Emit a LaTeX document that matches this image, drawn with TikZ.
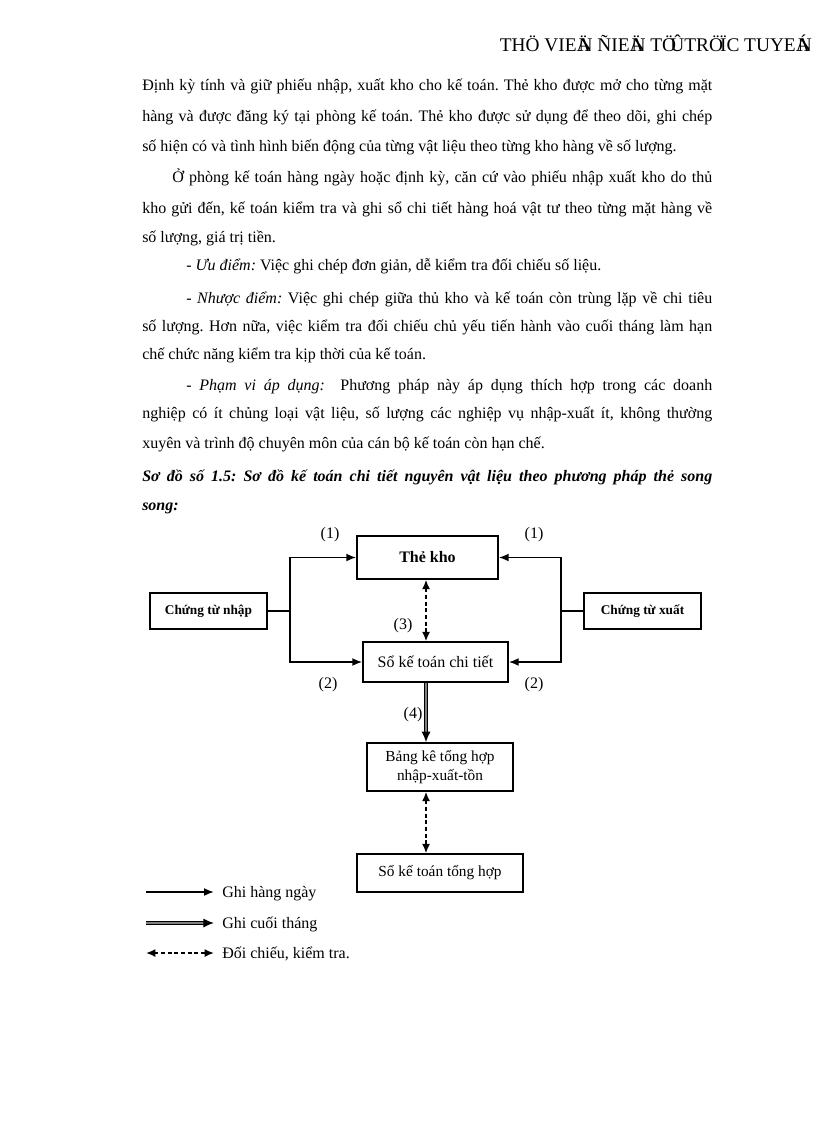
\documentclass[tikz,border=0pt]{standalone}
\usepackage{fontspec}
\setmainfont{Liberation Serif}
\usetikzlibrary{arrows.meta}
\frenchspacing

\newlength\pxl
\setlength\pxl{0.75pt}
% justified line of a given pixel width
\newcommand\jline[2]{\makebox[#1\pxl][s]{#2}}

\begin{document}
\begin{tikzpicture}[
        x=0.75pt, y=-0.75pt,
        txt/.style={anchor=base west, inner sep=0pt, font=\fontsize{12}{14}\selectfont},
        box/.style={rectangle, draw, line width=1.1pt, inner sep=0pt, align=center, font=\fontsize{12}{14}\selectfont},
        srcbox/.style={box, minimum width=87.75pt, minimum height=27pt, font=\fontsize{10}{12}\selectfont\bfseries},
        sumbox/.style={box, font=\fontsize{11.5}{14.25}\selectfont},
        num/.style={inner sep=0pt, font=\fontsize{12}{14}\selectfont},
        flow/.style={line width=1.3pt, -{Latex[length=7.5pt,width=6pt]}},
        check/.style={line width=1.3pt, dash pattern=on 3pt off 2pt, {Latex[length=7pt,width=6pt]}-{Latex[length=7pt,width=6pt]}},
        monthly/.style={double=gray, double distance=1pt, line width=1.2pt, -{Latex[length=8pt,width=7pt]}},
    ]
    \path[fill=white, use as bounding box] (0,0) rectangle (816,1123);

    % Header
    \node[anchor=base east, inner sep=0pt, font=\fontsize{14.5}{16}\selectfont] (header) at (812,52)
        {THÖ VIEÄ\kern-.62em N ÑIEÄ\kern-.62em N TÖ\kern-.3emÛTRÖ\kern-.15emÏC TUYEÁ\kern-.62em N};

    % Body text
    \node[txt] (l1) at (142,91) {\jline{570}{Định kỳ tính và giữ phiếu nhập, xuất kho cho kế toán. Thẻ kho được mở cho từng mặt}};
    \node[txt] (l2) at (142,122) {\jline{570}{hàng và được đăng ký tại phòng kế toán. Thẻ kho được sử dụng để theo dõi, ghi chép}};
    \node[txt] (l3) at (142,152) {số hiện có và tình hình biến động của từng vật liệu theo từng kho hàng về số lượng.};
    \node[txt] (l4) at (172,183) {\jline{540}{Ở phòng kế toán hàng ngày hoặc định kỳ, căn cứ vào phiếu nhập xuất kho do thủ}};
    \node[txt] (l5) at (142,214) {\jline{570}{kho gửi đến, kế toán kiểm tra và ghi sổ chi tiết hàng hoá vật tư theo từng mặt hàng về}};
    \node[txt] (l6) at (142,243) {số lượng, giá trị tiền.};
    \node[txt] (l7) at (186,270) {- \textit{Ưu điểm:} Việc ghi chép đơn giản, dễ kiểm tra đối chiếu số liệu.};
    \node[txt] (l8) at (186,303) {\jline{526}{- \textit{Nhược điểm:} Việc ghi chép giữa thủ kho và kế toán còn trùng lặp về chi tiêu}};
    \node[txt] (l9) at (142,331) {\jline{570}{số lượng. Hơn nữa, việc kiểm tra đối chiếu chủ yếu tiến hành vào cuối tháng làm hạn}};
    \node[txt] (l10) at (142,359) {chế chức năng kiểm tra kịp thời của kế toán.};
    \node[txt] (l11) at (186,390) {\jline{526}{- \textit{Phạm vi áp dụng:}\ \ Phương pháp này áp dụng thích hợp trong các doanh}};
    \node[txt] (l12) at (142,418) {\jline{570}{nghiệp có ít chủng loại vật liệu, số lượng các nghiệp vụ nhập-xuất ít, không thường}};
    \node[txt] (l13) at (142,448) {xuyên và trình độ chuyên môn của cán bộ kế toán còn hạn chế.};
    \node[txt, font=\fontsize{12}{14}\selectfont\bfseries\itshape] (l14) at (142,481) {\jline{570}{Sơ đồ số 1.5: Sơ đồ kế toán chi tiết nguyên vật liệu theo phương pháp thẻ song}};
    \node[txt, font=\fontsize{12}{14}\selectfont\bfseries\itshape] (l15) at (142,510) {song:};

    % Boxes
    \node[box, minimum width=105.75pt, minimum height=32.25pt, font=\fontsize{12}{14}\selectfont\bfseries] (thekho) at (427.5,557.5) {Thẻ kho};
    \node[srcbox] (nhap) at (208.5,611) {Chứng từ nhập};
    \node[srcbox] (xuat) at (642.5,611) {Chứng từ xuất};
    \node[box, minimum width=108.75pt, minimum height=30pt] (chitiet) at (435.5,662) {Sổ kế toán chi tiết};
    \node[sumbox, minimum width=109.5pt, minimum height=36pt] (bang) at (440,767) {Bảng kê tổng hợp\\nhập-xuất-tồn};
    \node[sumbox, minimum width=124.5pt, minimum height=28.5pt] (tonghop) at (440,873) {Sổ kế toán tổng hợp};

    % Junctions
    \coordinate (jl) at (290,611);
    \coordinate (jr) at (561,611);
    \coordinate (axis) at (426,0);

    % Connectors
    \draw[line width=1.1pt] (nhap) -- (jl);
    \draw[flow] (jl) |- (thekho.west);
    \draw[flow] (jl) |- (chitiet.west);
    \draw[line width=1.1pt] (xuat) -- (jr);
    \draw[flow] (jr) |- (thekho.east);
    \draw[flow] (jr) |- (chitiet.east);
    \draw[check] (thekho.south -| axis) -- (chitiet.north -| axis);
    \draw[monthly] (chitiet.south -| axis) -- (bang.north -| axis);
    \draw[check] (bang.south -| axis) -- (tonghop.north -| axis);

    % Step numbers
    \node[num] (n1l) at (330,535) {(1)};
    \node[num] (n1r) at (534,535) {(1)};
    \node[num] (n2l) at (328,685) {(2)};
    \node[num] (n2r) at (534,685) {(2)};
    \node[num] (n3) at (403,626) {(3)};
    \node[num] (n4) at (413,715) {(4)};

    % Legend
    \coordinate (lga) at (146,892);
    \coordinate (lgb) at (214,892);
    \coordinate (lma) at (146,923);
    \coordinate (lmb) at (214,923);
    \coordinate (lca) at (146,953);
    \coordinate (lcb) at (214,953);
    \draw[flow] (lga) -- (lgb);
    \draw[monthly] (lma) -- (lmb);
    \draw[check] (lca) -- (lcb);
    \node[txt] (daily) at (222,897) {Ghi hàng ngày};
    \node[txt] (endmonth) at (222,928) {Ghi cuối tháng};
    \node[txt] (verify) at (222,958) {Đối chiếu, kiểm tra.};

\end{tikzpicture}
\end{document}
